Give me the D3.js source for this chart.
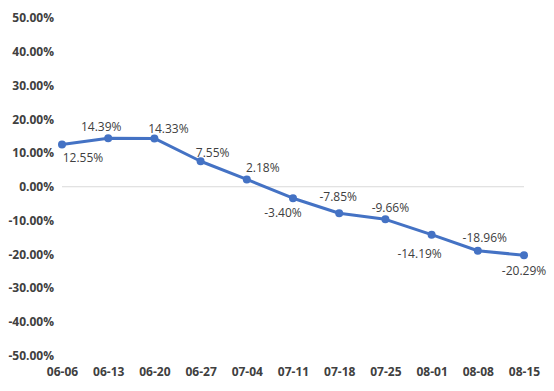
<!DOCTYPE html>
<html lang="en">
<head>
  <meta charset="UTF-8">
  <title>Weekly change</title>
  <script src="https://cdn.jsdelivr.net/npm/d3@7"></script>
  <style>
    body { margin: 0; background: #fff; }
    text { font-family: "Open Sans", "Noto Sans", sans-serif; fill: #404040; }
    .axis text { font-size: 12px; font-weight: bold; }
    .label { font-size: 12px; }
  </style>
</head>
<body>
  <svg width="554" height="391"></svg>

  <script>
    // data
    const weeks = ["06-06", "06-13", "06-20", "06-27", "07-04", "07-11", "07-18", "07-25", "08-01", "08-08", "08-15"];
    const values = [12.55, 14.39, 14.33, 7.55, 2.18, -3.40, -7.85, -9.66, -14.19, -18.96, -20.29];
    const yTicks = [50, 40, 30, 20, 10, 0, -10, -20, -30, -40, -50];

    // label placement (offset from point, px)
    const labelOffset = [[21, 13], [-7, -12], [14, -10], [12, -9], [16, -12], [-10, 14],
                         [-1, -17], [5, -12], [-12, 19], [7, -13], [0, 15]];

    const svg = d3.select("svg");

    const x = d3.scalePoint()
      .domain(weeks)
      .range([62, 524]);

    const y = d3.scaleLinear()
      .domain([-50, 50])
      .range([355.5, 18]);

    // zero line
    svg.append("line")
      .attr("x1", x.range()[0])
      .attr("x2", x.range()[1])
      .attr("y1", y(0))
      .attr("y2", y(0))
      .attr("stroke", "#d9d9d9")
      .attr("stroke-width", 1);

    // y axis
    svg.append("g")
      .attr("class", "axis")
      .attr("transform", "translate(54,0)")
      .call(d3.axisLeft(y).tickValues(yTicks).tickSize(0).tickPadding(0)
        .tickFormat(d => d.toFixed(2) + "%"))
      .call(g => g.select(".domain").remove());

    // x axis
    svg.append("g")
      .attr("class", "axis")
      .attr("transform", "translate(0,367)")
      .call(d3.axisBottom(x).tickSize(0).tickPadding(0))
      .call(g => g.select(".domain").remove());

    const line = d3.line()
      .x((d, i) => x(weeks[i]))
      .y(d => y(d));

    svg.append("path")
      .datum(values)
      .attr("fill", "none")
      .attr("stroke", "#4472C4")
      .attr("stroke-width", 3)
      .attr("stroke-linejoin", "round")
      .attr("d", line);

    svg.selectAll(".dot")
      .data(values)
      .join("circle")
      .attr("class", "dot")
      .attr("cx", (d, i) => x(weeks[i]))
      .attr("cy", d => y(d))
      .attr("r", 4)
      .attr("fill", "#4472C4");

    svg.selectAll(".label")
      .data(values)
      .join("text")
      .attr("class", "label")
      .attr("x", (d, i) => x(weeks[i]) + labelOffset[i][0])
      .attr("y", (d, i) => y(d) + labelOffset[i][1])
      .attr("text-anchor", "middle")
      .attr("dominant-baseline", "central")
      .text(d => d.toFixed(2) + "%");
  </script>
</body>
</html>
